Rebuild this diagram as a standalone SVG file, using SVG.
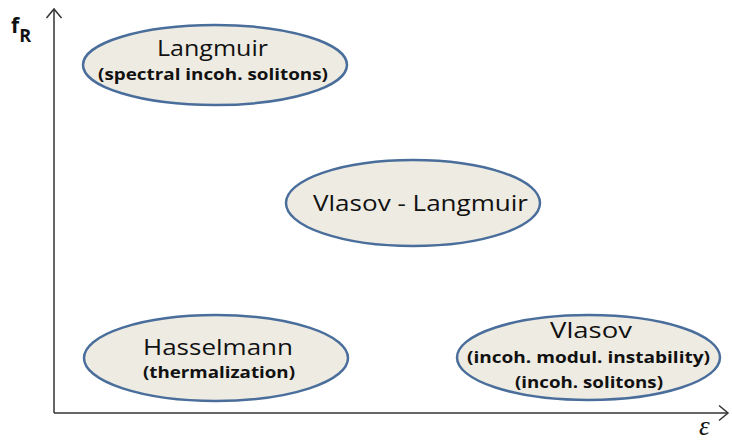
<svg xmlns="http://www.w3.org/2000/svg" width="732" height="440" viewBox="0 0 732 440">
<style>
.node ellipse{fill:#EEEBE2;stroke:#4A6E9B;stroke-width:2.5}
.t{font-family:"Open Sans","Liberation Sans",sans-serif;font-size:21px;fill:#111;text-anchor:middle}
.s{font-family:"Open Sans","Liberation Sans",sans-serif;font-size:16px;font-weight:bold;fill:#111;text-anchor:middle}
.axis{stroke:#333;stroke-width:1.5;fill:none}
</style>
<defs>
<marker id="arr" markerWidth="14" markerHeight="18" refX="10" refY="9" orient="auto" markerUnits="userSpaceOnUse">
<path d="M1,1.5 L10,9 L1,16.5" fill="none" stroke="#333" stroke-width="1.5"/>
</marker>
</defs>
<g id="connectors">
<path class="axis" d="M54,413 L54,9" marker-end="url(#arr)"/>
<path class="axis" d="M54,413 L728,413" marker-end="url(#arr)"/>
</g>
<g id="axis-labels">
<text x="11" y="33" font-family="Open Sans,Liberation Sans,sans-serif" font-weight="bold" font-size="21" fill="#111">f<tspan font-size="18" dy="9">R</tspan></text>
<text x="699" y="435" font-family="Liberation Serif,serif" font-style="italic" font-size="27" fill="#111">ε</text>
</g>
<g id="langmuir" class="node">
<ellipse cx="215" cy="65" rx="132" ry="40"/>
<text class="t" x="212.5" y="56" textLength="111" lengthAdjust="spacingAndGlyphs">Langmuir</text>
<text class="s" x="213" y="80" textLength="230" lengthAdjust="spacingAndGlyphs">(spectral incoh. solitons)</text>
</g>
<g id="vlasov-langmuir" class="node">
<ellipse cx="413" cy="203" rx="127" ry="43"/>
<text class="t" x="420.5" y="211" textLength="215" lengthAdjust="spacingAndGlyphs">Vlasov - Langmuir</text>
</g>
<g id="hasselmann" class="node">
<ellipse cx="216" cy="358" rx="132" ry="43"/>
<text class="t" x="218" y="355" textLength="150" lengthAdjust="spacingAndGlyphs">Hasselmann</text>
<text class="s" x="219" y="378" textLength="152" lengthAdjust="spacingAndGlyphs">(thermalization)</text>
</g>
<g id="vlasov" class="node">
<ellipse cx="588.5" cy="357.5" rx="131.5" ry="42.5"/>
<text class="t" x="591" y="338" textLength="82" lengthAdjust="spacingAndGlyphs">Vlasov</text>
<text class="s" x="588.5" y="363" textLength="243" lengthAdjust="spacingAndGlyphs">(incoh. modul. instability)</text>
<text class="s" x="589" y="388" textLength="148" lengthAdjust="spacingAndGlyphs">(incoh. solitons)</text>
</g>
</svg>
